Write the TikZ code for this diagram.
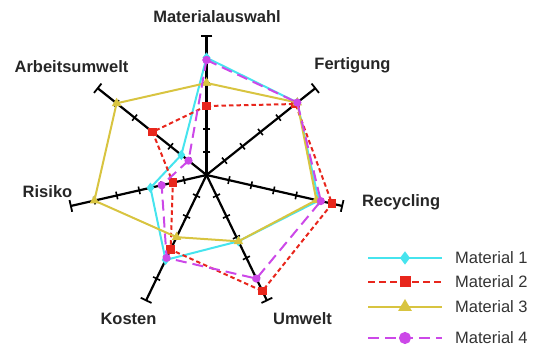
\documentclass[tikz,border=0pt]{standalone}
\usepackage{fontspec}
\setmainfont{Liberation Sans}
\usepackage{xcolor}
\usetikzlibrary{plotmarks}

\definecolor{matcyan}{RGB}{70,228,238}
\definecolor{matred}{RGB}{232,38,28}
\definecolor{matyellow}{RGB}{216,196,64}
\definecolor{matviolet}{RGB}{204,72,232}

\begin{document}
\begin{tikzpicture}[x=1pt,y=1pt,
        lbl/.style={font=\fontsize{16.5}{18}\selectfont\bfseries,text=black!85,inner sep=0pt},
        legtext/.style={font=\fontsize{16.5}{18}\selectfont,text=black!80,anchor=west,inner sep=0pt},
        axisline/.style={line width=2.2pt,black},
        mat1/.style={line width=2pt,matcyan,mark=diamond*,mark size=3.5pt,mark options={solid,fill=matcyan}},
        mat2/.style={line width=2pt,matred,dash pattern=on 4.5pt off 3pt,mark=square*,mark size=3.3pt,mark options={solid,fill=matred}},
        mat3/.style={line width=2pt,matyellow,mark=triangle*,mark size=3.5pt,mark options={solid,fill=matyellow}},
        mat4/.style={line width=2pt,matviolet,dash pattern=on 11pt off 6pt,mark=*,mark size=3pt,mark options={solid,fill=matviolet}}]
            \useasboundingbox (0,0) rectangle (536,350);

            \begin{scope}[shift={(206.5,175)},x=23pt,y=23pt]
                \foreach \i in {0,...,6}{
                    \pgfmathsetmacro{\ang}{90-\i*360/7}
                    \coordinate (ax\i) at (\ang:6.05);
                    \draw[axisline] (0,0) -- (ax\i);
                    \foreach \k in {1,...,5}
                        \draw[axisline,line width=1.6pt,rotate=\ang] (\k,-0.17) -- (\k,0.17);
                    \draw[axisline,line width=1.8pt,rotate=\ang] (6.05,-0.26) -- (6.05,0.26);
                }

                \draw[mat1] plot coordinates {(90:5.1) (38.571:5.05) (-12.857:5) (-64.286:3.2) (-115.714:4.1) (-167.143:2.5) (141.429:1.4) (90:5.1)};
                \draw[mat2] plot coordinates {(90:3) (38.571:4.95) (-12.857:5.6) (-64.286:5.6) (-115.714:3.6) (-167.143:1.5) (141.429:3) (90:3)};
                \draw[mat3] plot coordinates {(90:4) (38.571:5.05) (-12.857:4.9) (-64.286:3.2) (-115.714:3) (-167.143:5) (141.429:5) (90:4)};
                \draw[mat4] plot coordinates {(90:5) (38.571:5.05) (-12.857:5.1) (-64.286:5) (-115.714:4) (-167.143:2) (141.429:1) (90:5)};
            \end{scope}

            \node[lbl] (materialauswahl) at (217,333) {Materialauswahl};
            \node[lbl] (fertigung) at (352.5,285) {Fertigung};
            \node[lbl,anchor=west] (recycling) at (362,148) {Recycling};
            \node[lbl] (umwelt) at (302.5,31) {Umwelt};
            \node[lbl] (kosten) at (128.5,31) {Kosten};
            \node[lbl] (risiko) at (47.5,158) {Risiko};
            \node[lbl] (arbeitsumwelt) at (71.5,283) {Arbeitsumwelt};

            \draw[mat1,mark size=5pt,mark indices={2}] plot coordinates {(368,92) (405,92) (442,92)};
            \draw[mat2,mark size=4.5pt,mark indices={2},dash pattern=on 7pt off 4pt] plot coordinates {(368,68) (405,68) (442,68)};
            \draw[mat3,mark size=6pt,mark indices={2}] plot coordinates {(368,43) (405,43) (442,43)};
            \draw[mat4,mark size=5pt,mark indices={2}] plot coordinates {(368,12) (405,12) (442,12)};

            \node[legtext] (leg1) at (455,92) {Material 1};
            \node[legtext] (leg2) at (455,68) {Material 2};
            \node[legtext] (leg3) at (455,43) {Material 3};
            \node[legtext] (leg4) at (455,12) {Material 4};
        \end{tikzpicture}
\end{document}
